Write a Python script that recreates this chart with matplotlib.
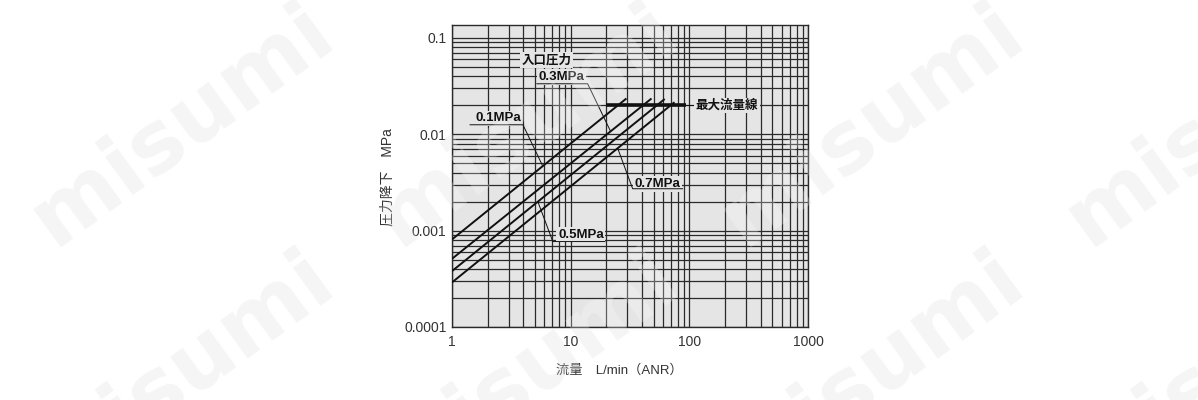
import matplotlib
matplotlib.use("Agg")
import matplotlib.pyplot as plt
import numpy as np
from matplotlib.ticker import LogLocator, NullFormatter

plt.rcParams['font.family'] = ['Liberation Sans', 'Noto Sans CJK JP', 'DejaVu Sans']

# 入口圧力ごとの特性線 (両端の読み取り値)
flow_01 = [1, 29.5]
drop_01 = [0.00081, 0.0235]
flow_03 = [1, 48]
drop_03 = [0.00051, 0.0235]
flow_05 = [1, 62]
drop_05 = [0.00038, 0.0232]
flow_07 = [1, 75]
drop_07 = [0.00029, 0.0215]

# 最大流量線
max_flow = [20, 94]
max_drop = [0.02, 0.02]

x_ticks = [1, 10, 100, 1000]
x_labels = ['1', '10', '100', '1000']
y_ticks = [0.0001, 0.001, 0.01, 0.1]
y_labels = ['0.0001', '0.001', '0.01', '0.1']

BG = '#e5e5e5'
INK = '#111111'
W, H = 1198, 400


def drop_at(flow, drop, q):
    return 10 ** np.interp(np.log10(q), np.log10(flow), np.log10(drop))


fig = plt.figure(figsize=(W / 100, H / 100), dpi=100)
ax = fig.add_axes([452 / W, 1 - 327 / H, 356 / W, 302 / H])
ax.set_facecolor(BG)
ax.set_xscale('log')
ax.set_yscale('log')
ax.set_xlim(1, 1000)
ax.set_ylim(0.0001, 0.136)

ax.xaxis.set_minor_locator(LogLocator(base=10, subs=np.arange(2, 10)))
ax.yaxis.set_minor_locator(LogLocator(base=10, subs=np.arange(2, 10)))
ax.xaxis.set_minor_formatter(NullFormatter())
ax.yaxis.set_minor_formatter(NullFormatter())
ax.set_xticks(x_ticks, x_labels)
ax.set_yticks(y_ticks, y_labels)
ax.tick_params(which='both', length=0, labelsize=10, labelcolor='#333333')
ax.tick_params(axis='x', pad=6)
ax.tick_params(axis='y', pad=4)
ax.set_axisbelow(True)
ax.grid(which='both', color='#2a2a2a', lw=0.9)
for s in ax.spines.values():
    s.set_color('#2a2a2a')
    s.set_linewidth(1.0)

for fl, dr in [(flow_01, drop_01), (flow_03, drop_03), (flow_05, drop_05), (flow_07, drop_07)]:
    ax.plot(fl, dr, color=INK, lw=1.4, zorder=3, solid_capstyle='butt')

ax.plot(max_flow, max_drop, color=INK, lw=2.6, zorder=3, solid_capstyle='butt')
ax.plot([max_flow[1], 113], max_drop, color=INK, lw=0.7, zorder=3)

box = dict(boxstyle='square,pad=0.12', fc=BG, ec='none')


def tag(text, tx, ty, lx, ly, size=9.5):
    ax.text(tx, ty, text, ha='center', va='center', fontsize=size,
            fontweight='bold', color=INK, bbox=box, zorder=5)
    if lx:
        ax.plot(lx, ly, color=INK, lw=0.7, zorder=6)


tag('入口圧力', 6.3, 0.059, None, None, size=9)
tag('0.3MPa', 8.4, 0.0392,
    [5.19, 13.9, 21.7], [0.0334, 0.0334, drop_at(flow_03, drop_03, 21.7)])
tag('0.1MPa', 2.44, 0.0147,
    [1.42, 3.96, 5.82], [0.01254, 0.01254, drop_at(flow_01, drop_01, 5.82)])
tag('0.7MPa', 54, 0.00305,
    [87.7, 33.3, 24.9], [0.00272, 0.00272, drop_at(flow_07, drop_07, 24.9)])
tag('0.5MPa', 12.2, 0.00091,
    [19.4, 7.07, 5.29], [0.00077, 0.00077, drop_at(flow_05, drop_05, 5.29)])
ax.text(113, 0.02, '最大流量線', ha='left', va='center', fontsize=9,
        fontweight='bold', color=INK, bbox=box, zorder=5)

fig.text(619 / W, 1 - 370 / H, '流量　L/min（ANR）', ha='center', va='center',
         fontsize=9.5, color='#333333')
fig.text(388 / W, 1 - 177 / H, '圧力降下　MPa', ha='center', va='center',
         rotation=90, fontsize=10, color='#333333')

# watermark
for px in [183, 528, 873, 1218]:
    for py in [125, 372]:
        fig.text(px / W, 1 - py / H, 'misumi', rotation=36, rotation_mode='anchor',
                 ha='center', va='center', fontsize=62, fontweight='bold',
                 family='DejaVu Sans', color='#f3f3f3', zorder=-1)
        fig.text(px / W, 1 - py / H, 'misumi', rotation=36, rotation_mode='anchor',
                 ha='center', va='center', fontsize=62, fontweight='bold',
                 family='DejaVu Sans', color='white', alpha=0.25, zorder=10)

fig.savefig('out.png', dpi=100)
